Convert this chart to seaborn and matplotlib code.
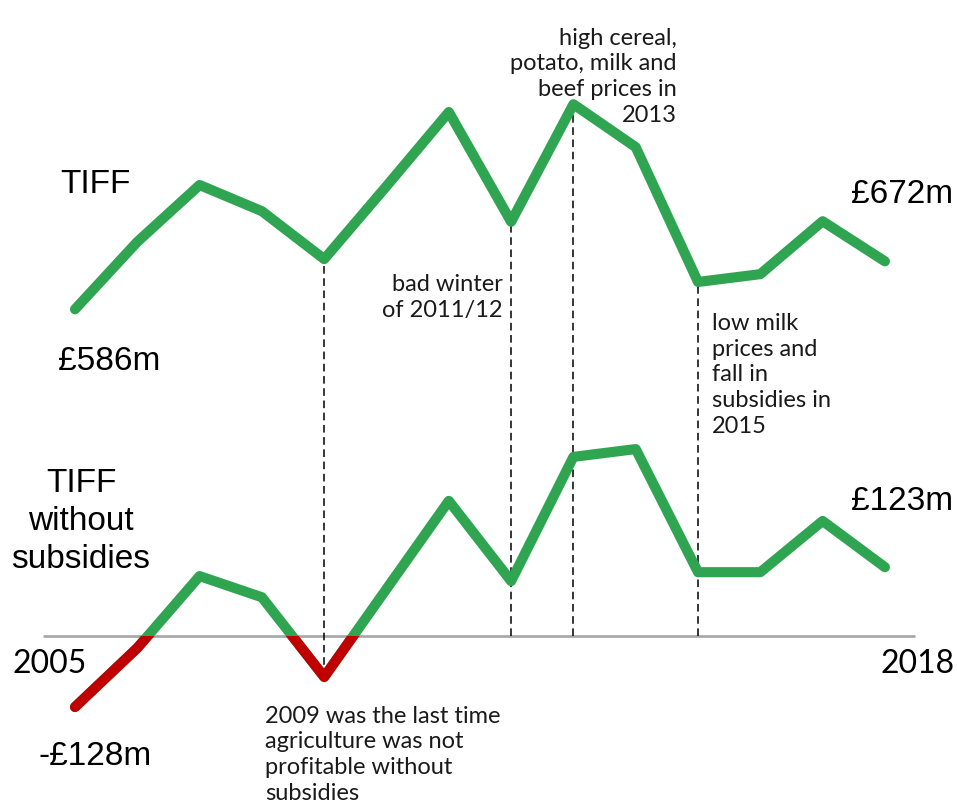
import pandas as pd
import numpy as np
import matplotlib.pyplot as plt
import seaborn as sns
from matplotlib.patches import Rectangle

# values (£m)
years = list(range(2005, 2019))
tiff = [586, 707, 809, 762, 676, 807, 940, 743, 954, 877, 635, 649, 744, 672]
tiff_no_subsidies = [-128, -22, 107, 69, -74, 84, 242, 98, 321, 335, 114, 114, 206, 123]

# years marked with a dashed guide line
event_years = [2009, 2012, 2013, 2015]

df = pd.DataFrame({"year": years, "tiff": tiff, "no_sub": tiff_no_subsidies})

GREEN = "#2fa552"
RED = "#c00000"

sns.set_style("white")
plt.rcParams["font.family"] = ["Liberation Sans", "DejaVu Sans"]
note_font = ["Lato", "DejaVu Sans"]

fig = plt.figure(figsize=(9.57, 8.03), dpi=100)
ax = fig.add_axes([0, 0, 1, 1])
ax.set_xlim(2003.796, 2019.157)
ax.set_ylim(-298.5, 1142.9)
ax.axis("off")

# zero line
ax.hlines(0, 2004.49, 2018.48, color="#a6a6a6", lw=1.9, zorder=1)

# dashed guide lines, from the TIFF line down to zero (or to the dip below it)
for yr in event_years:
    i = years.index(yr)
    low = min(tiff_no_subsidies[i], 0)
    ax.vlines(yr, low, tiff[i], colors="black", lw=1.1,
              linestyles=(0, (5, 3)), zorder=2)

line_kw = dict(lw=7.3, solid_capstyle="round", solid_joinstyle="round", zorder=3)
sns.lineplot(data=df, x="year", y="tiff", color=GREEN, ax=ax, **line_kw)
sns.lineplot(data=df, x="year", y="no_sub", color=GREEN, ax=ax, **line_kw)
sns.lineplot(data=df, x="year", y="no_sub", color=RED, ax=ax, **line_kw)
below = Rectangle((2003, -400), 20, 400, transform=ax.transData)
ax.lines[-1].set_clip_path(below)


def px(x, y):
    return x / 957, 1 - y / 803


# multi-line texts are anchored on the baseline of their last line
big = dict(fontsize=24, color="black", va="baseline")
fig.text(*px(60, 193), "TIFF", ha="left", **big)
fig.text(*px(58, 370), "£586m", ha="left", **big)
fig.text(*px(953, 203), "£672m", ha="right", **big)
fig.text(*px(81, 568), "TIFF\nwithout\nsubsidies", ha="center",
         linespacing=1.3, multialignment="center", **big)
fig.text(*px(953, 510), "£123m", ha="right", **big)
fig.text(*px(38, 765), "-£128m", ha="left", **big)

yr_kw = dict(fontsize=23, color="black", va="baseline", family=note_font)
fig.text(*px(13, 673), "2005", ha="left", **yr_kw)
fig.text(*px(955, 673), "2018", ha="right", **yr_kw)

note = dict(fontsize=17, color="#1a1a1a", va="baseline", family=note_font,
            linespacing=1.28)
fig.text(*px(677, 122), "high cereal,\npotato, milk and\nbeef prices in\n2013",
         ha="right", multialignment="right", **note)
fig.text(*px(503, 317), "bad winter\nof 2011/12", ha="right",
         multialignment="right", **note)
fig.text(*px(712, 433), "low milk\nprices and\nfall in\nsubsidies in\n2015",
         ha="left", **note)
fig.text(*px(265, 800),
         "2009 was the last time\nagriculture was not\nprofitable without\nsubsidies",
         ha="left", **note)

plt.savefig("out.png", dpi=100)
plt.close()
